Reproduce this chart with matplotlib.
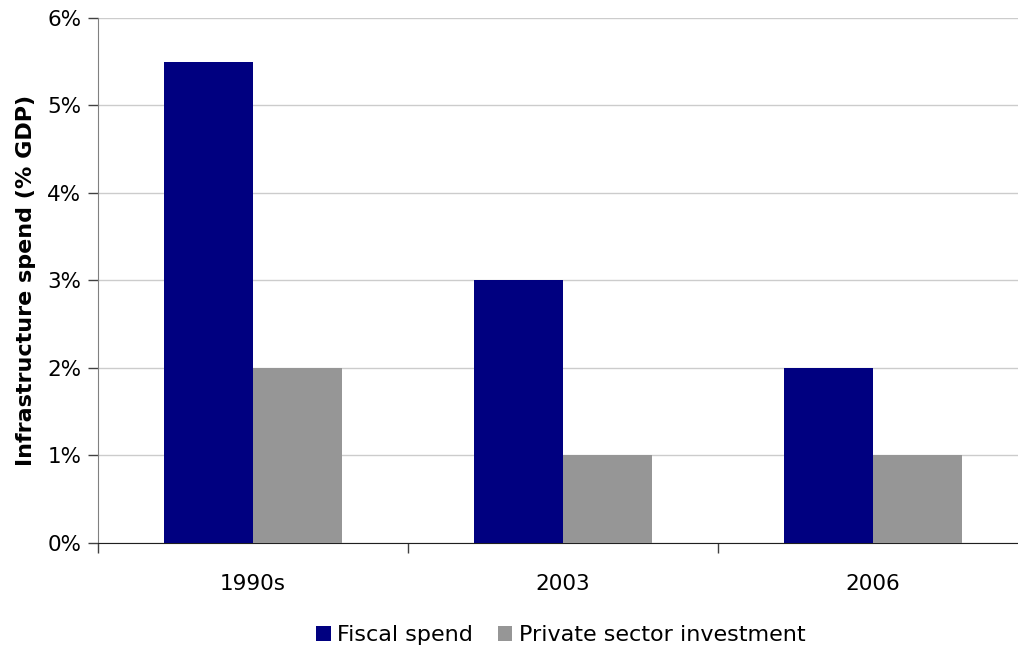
import matplotlib.pyplot as plt
import numpy as np
from matplotlib.ticker import FuncFormatter

periods = ['1990s', '2003', '2006']
fiscal = [5.5, 3.0, 2.0]
private = [2.0, 1.0, 1.0]

plt.rcParams['font.family'] = ['DejaVu Sans']

fig = plt.figure(figsize=(10.18, 6.51), dpi=100)
ax = fig.add_axes([0.0963, 0.1659, 0.9037, 0.8065])

x = np.arange(len(periods))
w = 0.286
ax.bar(x - w / 2, fiscal, w, color='#000080', label='Fiscal spend', zorder=3)
ax.bar(x + w / 2, private, w, color='#969696', label='Private sector investment', zorder=3)

ax.set_xlim(-0.5, 2.468)
ax.set_ylim(0, 6)
ax.set_yticks(range(0, 7))
ax.yaxis.set_major_formatter(FuncFormatter(lambda v, p: f'{v:.0f}%'))
ax.grid(axis='y', color='#cccccc', linewidth=1, zorder=0)

# category labels centred, tick marks between categories
ax.set_xticks(x)
ax.set_xticklabels(periods)
ax.set_xticks([-0.5, 0.5, 1.5], minor=True)
ax.tick_params(axis='x', which='major', length=0, pad=22, labelsize=15.5)
ax.tick_params(axis='x', which='minor', length=7, width=1, color='#404040', direction='out')
ax.tick_params(axis='y', length=7, width=1, color='#404040', labelsize=15.5, pad=5)

for side in ['top', 'right']:
    ax.spines[side].set_visible(False)
ax.spines['left'].set_color('#808080')
ax.spines['bottom'].set_color('#202020')

ax.set_ylabel('Infrastructure spend (% GDP)', fontsize=16, fontweight='bold', labelpad=8)

fig.legend(loc='center', bbox_to_anchor=(0.551, 0.024), ncol=2, frameon=False,
           fontsize=16, handlelength=0.65, handleheight=0.65, handletextpad=0.3,
           columnspacing=1.1)

fig.savefig('out.png', dpi=100)
